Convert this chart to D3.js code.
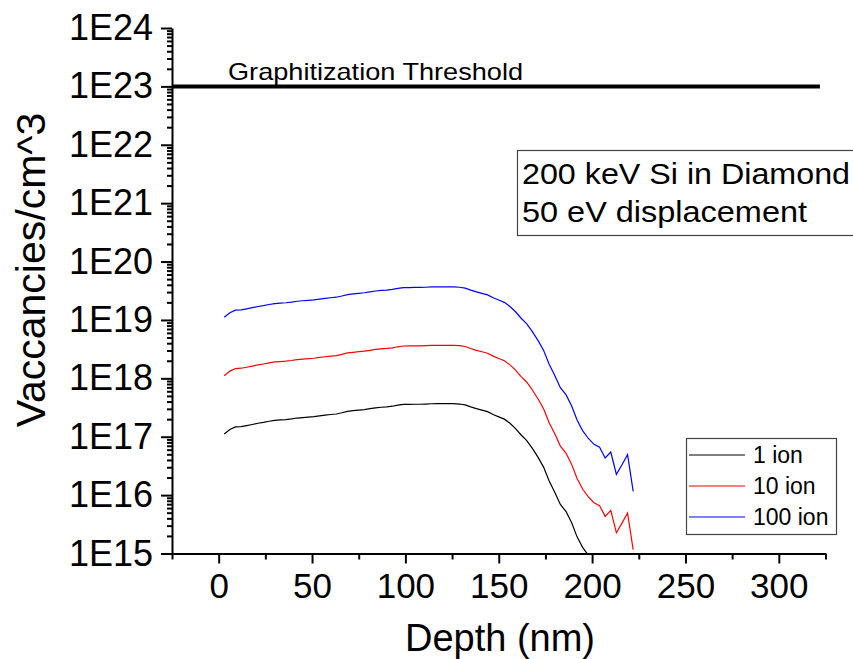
<!DOCTYPE html>
<html>
<head>
<meta charset="utf-8">
<script src="https://cdn.jsdelivr.net/npm/d3@7"></script>
<style>
  html, body { margin: 0; padding: 0; background: #fff; }
  svg { display: block; font-family: "Liberation Sans", Arial, sans-serif; }
</style>
</head>
<body>
<svg id="chart" width="853" height="659"></svg>
<script>
// Depth bins (nm)
const depth = [3,6,9,12,15,18,21,24,27,30,33,36,39,42,45,48,51,54,57,60,63,66,69,72,75,78,81,84,87,90,
  93,96,99,102,105,108,111,114,117,120,123,126,129,132,135,138,141,144,147,150,153,156,159,162,165,168,171,174,177,180,
  183,186,189,192,195,198,201,204,207,210,213,216,219,222];

// Vacancy density (vacancies/cm^3) for 1, 10 and 100 ions
const ion1 = [1.11e17,1.33e17,1.47e17,1.49e17,1.55e17,1.62e17,1.70e17,1.76e17,1.84e17,1.91e17,1.94e17,1.97e17,2.02e17,2.09e17,2.13e17,2.17e17,2.21e17,2.28e17,2.34e17,2.40e17,
  2.45e17,2.57e17,2.72e17,2.79e17,2.86e17,2.92e17,3.02e17,3.13e17,3.20e17,3.25e17,3.33e17,3.47e17,3.58e17,3.59e17,3.60e17,3.60e17,3.63e17,3.67e17,3.68e17,3.68e17,
  3.68e17,3.68e17,3.63e17,3.51e17,3.24e17,3.02e17,2.85e17,2.69e17,2.40e17,2.19e17,2.00e17,1.70e17,1.38e17,1.07e17,8.57e16,6.31e16,4.47e16,3.02e16,1.74e16,1.12e16,
  6.92e15,5.25e15,3.39e15,1.91e15,1.26e15,9.33e14,7.41e14,6.61e14,4.32e14,5.47e14,2.27e14,3.31e14,4.93e14,1.16e14];
const ion10 = [1.11e18,1.33e18,1.47e18,1.49e18,1.55e18,1.62e18,1.70e18,1.76e18,1.84e18,1.91e18,1.94e18,1.97e18,2.02e18,2.09e18,2.13e18,2.17e18,2.21e18,2.28e18,2.34e18,2.40e18,
  2.45e18,2.57e18,2.72e18,2.79e18,2.86e18,2.92e18,3.02e18,3.13e18,3.20e18,3.25e18,3.33e18,3.47e18,3.58e18,3.59e18,3.60e18,3.60e18,3.63e18,3.67e18,3.68e18,3.68e18,
  3.68e18,3.68e18,3.63e18,3.51e18,3.24e18,3.02e18,2.85e18,2.69e18,2.40e18,2.19e18,2.00e18,1.70e18,1.38e18,1.07e18,8.57e17,6.31e17,4.47e17,3.02e17,1.74e17,1.12e17,
  6.92e16,5.25e16,3.39e16,1.91e16,1.26e16,9.33e15,7.41e15,6.61e15,4.32e15,5.47e15,2.27e15,3.31e15,4.93e15,1.16e15];
const ion100 = [1.11e19,1.33e19,1.47e19,1.49e19,1.55e19,1.62e19,1.70e19,1.76e19,1.84e19,1.91e19,1.94e19,1.97e19,2.02e19,2.09e19,2.13e19,2.17e19,2.21e19,2.28e19,2.34e19,2.40e19,
  2.45e19,2.57e19,2.72e19,2.79e19,2.86e19,2.92e19,3.02e19,3.13e19,3.20e19,3.25e19,3.33e19,3.47e19,3.58e19,3.59e19,3.60e19,3.60e19,3.63e19,3.67e19,3.68e19,3.68e19,
  3.68e19,3.68e19,3.63e19,3.51e19,3.24e19,3.02e19,2.85e19,2.69e19,2.40e19,2.19e19,2.00e19,1.70e19,1.38e19,1.07e19,8.57e18,6.31e18,4.47e18,3.02e18,1.74e18,1.12e18,
  6.92e17,5.25e17,3.39e17,1.91e17,1.26e17,9.33e16,7.41e16,6.61e16,4.32e16,5.47e16,2.27e16,3.31e16,4.93e16,1.16e16];

const seriesNames = ["1 ion", "10 ion", "100 ion"];
const seriesColors = ["#000000", "#ff0000", "#0000ff"];

// Threshold line
const thresholdValue = 1e23;
const thresholdSpan = [-25, 322];
const thresholdLabel = "Graphitization Threshold";

// Axis ticks
const xTicks = [0, 50, 100, 150, 200, 250, 300];
const xMinorTicks = [-25, 25, 75, 125, 175, 225, 275, 325];
const yExponents = [15, 16, 17, 18, 19, 20, 21, 22, 23, 24];

const noteLines = ["200 keV Si in Diamond", "50 eV displacement"];

const svg = d3.select("#chart");
const x = d3.scaleLinear().domain([-25, 325]).range([172, 825.5]);
const y = d3.scaleLog().domain([1e15, 1e24]).range([553.5, 28]);

// clip for data lines
svg.append("defs").append("clipPath").attr("id", "plotClip")
  .append("rect")
  .attr("x", x(-25)).attr("y", y(1e24))
  .attr("width", x(325) - x(-25)).attr("height", y(1e15) - y(1e24));

// Y axis
const yMajor = yExponents.map(e => Math.pow(10, e));
const yMinor = [];
yExponents.slice(0, -1).forEach(e => { for (let k = 2; k <= 9; k++) yMinor.push(k * Math.pow(10, e)); });

const yAxis = svg.append("g").attr("transform", `translate(${x(-25)},0)`)
  .call(d3.axisLeft(y).tickValues(yMajor).tickSize(11).tickSizeOuter(0)
    .tickFormat(d => "1E" + Math.round(Math.log10(d))).tickPadding(8));
yAxis.selectAll("text").attr("font-size", 36).attr("fill", "#000")
  .attr("font-family", "'Liberation Sans', Arial, sans-serif");
const yAxisMinor = svg.append("g").attr("transform", `translate(${x(-25)},0)`)
  .call(d3.axisLeft(y).tickValues(yMinor).tickSize(5).tickSizeOuter(0).tickFormat(""));
yAxisMinor.select(".domain").remove();

// X axis
const xAxis = svg.append("g").attr("transform", `translate(0,${y(1e15)})`)
  .call(d3.axisBottom(x).tickValues(xTicks).tickSize(10).tickSizeOuter(0).tickPadding(10));
xAxis.selectAll("text").attr("font-size", 35).attr("fill", "#000")
  .attr("font-family", "'Liberation Sans', Arial, sans-serif");
const xAxisMinor = svg.append("g").attr("transform", `translate(0,${y(1e15)})`)
  .call(d3.axisBottom(x).tickValues(xMinorTicks).tickSize(6).tickSizeOuter(0).tickFormat(""));
xAxisMinor.select(".domain").remove();

svg.selectAll(".domain").attr("stroke", "#000").attr("stroke-width", 2);
svg.selectAll(".tick line").attr("stroke", "#000").attr("stroke-width", 2);

// Axis titles
svg.append("text").attr("x", 500).attr("y", 651).attr("text-anchor", "middle")
  .attr("font-size", 38).text("Depth (nm)");
svg.append("text").attr("transform", "translate(45,270) rotate(-90)")
  .attr("text-anchor", "middle").attr("font-size", 41).text("Vaccancies/cm^3");

// Threshold
svg.append("line")
  .attr("x1", x(thresholdSpan[0])).attr("x2", x(thresholdSpan[1]))
  .attr("y1", y(thresholdValue)).attr("y2", y(thresholdValue))
  .attr("stroke", "#000").attr("stroke-width", 4);
svg.append("text").attr("x", 228).attr("y", 80).attr("font-size", 24)
  .attr("textLength", 295).attr("lengthAdjust", "spacingAndGlyphs").text(thresholdLabel);

// Data lines
const series = [ion1, ion10, ion100];
const line = d3.line().x((d, i) => x(depth[i])).y(d => y(d));
const plot = svg.append("g").attr("clip-path", "url(#plotClip)");
series.forEach((vals, si) => {
  plot.append("path").datum(vals)
    .attr("fill", "none").attr("stroke", seriesColors[si]).attr("stroke-width", 1.2)
    .attr("d", line);
});

// Annotation box
const note = svg.append("g");
note.append("rect").attr("x", 517.5).attr("y", 150.5).attr("width", 400).attr("height", 85)
  .attr("fill", "#fff").attr("stroke", "#444").attr("stroke-width", 1.2);
const noteWidths = [328, 285];
noteLines.forEach((t, i) => {
  note.append("text").attr("x", 522).attr("y", 184 + i * 38).attr("font-size", 30)
    .attr("textLength", noteWidths[i]).attr("lengthAdjust", "spacingAndGlyphs").text(t);
});

// Legend
const legend = svg.append("g");
legend.append("rect").attr("x", 686.5).attr("y", 438.5).attr("width", 150).attr("height", 96)
  .attr("fill", "#fff").attr("stroke", "#444").attr("stroke-width", 1.2);
seriesNames.forEach((name, i) => {
  const ly = 455 + i * 31;
  legend.append("line").attr("x1", 689).attr("x2", 745).attr("y1", ly).attr("y2", ly)
    .attr("stroke", seriesColors[i]).attr("stroke-width", 1.2);
  legend.append("text").attr("x", 753).attr("y", ly + 8).attr("font-size", 23).text(name);
});
</script>
</body>
</html>
